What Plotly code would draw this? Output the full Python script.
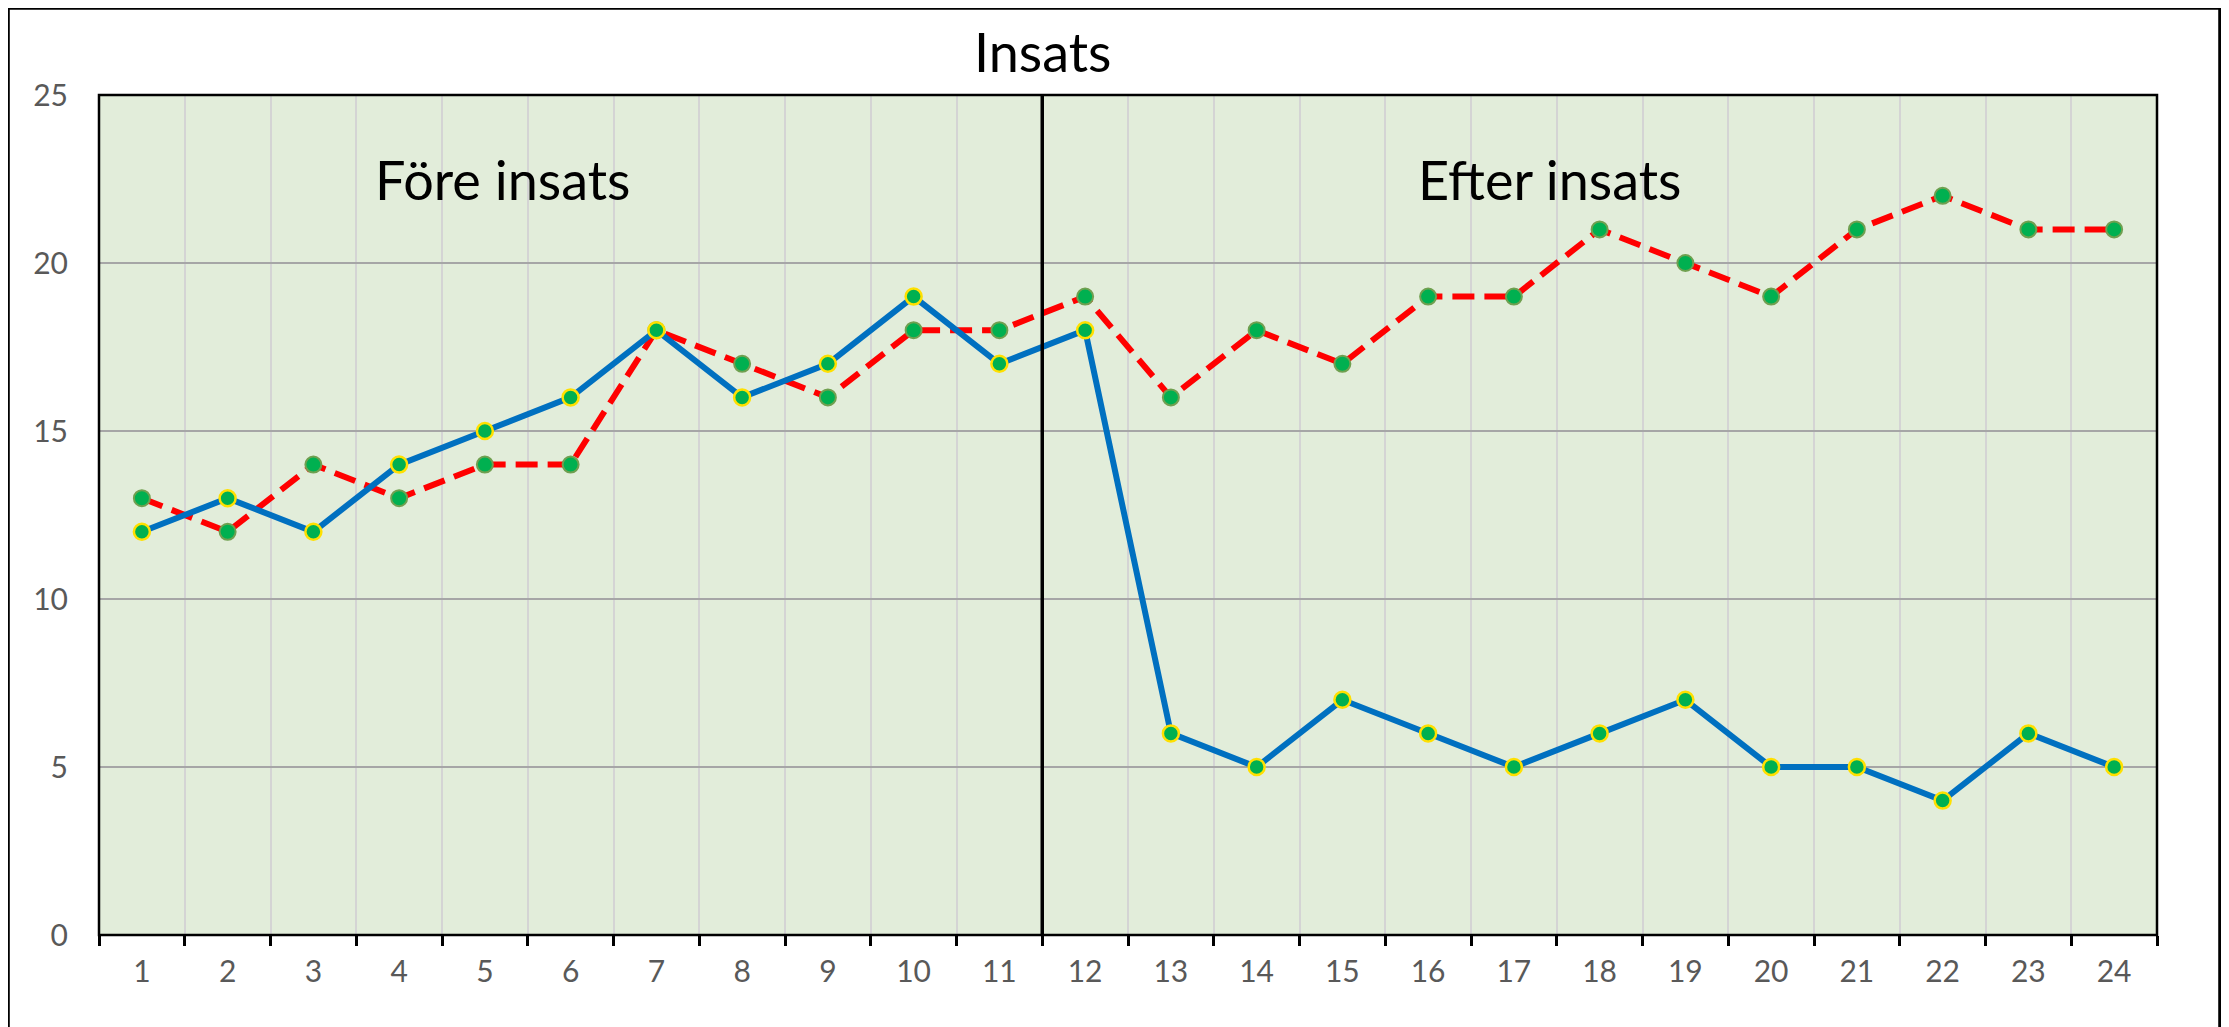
import plotly.graph_objects as go

x_vals = list(range(1, 25))
tick_labels = [str(i) for i in x_vals]
series_blue = [12, 13, 12, 14, 15, 16, 18, 16, 17, 19, 17, 18, 6, 5, 7, 6, 5, 6, 7, 5, 5, 4, 6, 5]
series_red = [13, 12, 14, 13, 14, 14, 18, 17, 16, 18, 18, 19, 16, 18, 17, 19, 19, 21, 20, 19, 21, 22, 21, 21]
intervention_x = 11.5
y_ticks = [0, 5, 10, 15, 20, 25]

FONT = "Lato"

fig = go.Figure()
fig.add_trace(go.Scatter(
    x=x_vals, y=series_red, mode="lines+markers",
    line=dict(color="#FF0000", width=6, dash="22px,10px"),
    marker=dict(size=16, color="#00B050", line=dict(color="#70A050", width=2)),
    showlegend=False))
fig.add_trace(go.Scatter(
    x=x_vals, y=series_blue, mode="lines+markers",
    line=dict(color="#0070C0", width=6),
    marker=dict(size=16, color="#00B050", line=dict(color="#FFE000", width=2.5)),
    showlegend=False))

# intervention line
fig.add_shape(type="line", xref="x", yref="paper", x0=intervention_x, x1=intervention_x,
              y0=0, y1=1, line=dict(color="black", width=3.5), layer="above")
# plot border
fig.add_shape(type="rect", xref="paper", yref="paper", x0=0, x1=1, y0=0, y1=1,
              line=dict(color="black", width=2.5), layer="above")
# outer chart border
fig.add_shape(type="rect", xref="paper", yref="paper", x0=-0.0442, x1=1.0306, y0=-0.2, y1=1.1036,
              line=dict(color="black", width=3.5))

fig.add_annotation(text="Insats", xref="x", yref="paper", x=intervention_x, y=1.0,
                   yanchor="middle", yshift=44, showarrow=False,
                   font=dict(family=FONT, size=54, color="black"))
fig.add_annotation(text="Före insats", xref="x", yref="y", x=5.2, y=22.5,
                   showarrow=False, font=dict(family=FONT, size=54, color="black"))
fig.add_annotation(text="Efter insats", xref="x", yref="y", x=17.42, y=22.5,
                   showarrow=False, font=dict(family=FONT, size=54, color="black"))

fig.update_layout(
    width=2229, height=1027,
    margin=dict(l=91, r=80, t=87, b=100),
    paper_bgcolor="white", plot_bgcolor="#E2EDDA",
    font=dict(family=FONT, size=30, color="#595959"),
    xaxis=dict(range=[0.5, 24.5], tickvals=x_vals, ticktext=tick_labels,
               showgrid=False, zeroline=False, ticks="", showline=False,
               ticklabelstandoff=16,
               minor=dict(tick0=0.5, dtick=1, showgrid=True, gridcolor="#D4D4D4", gridwidth=2,
                          ticks="outside", ticklen=10, tickcolor="black", tickwidth=2.5)),
    yaxis=dict(range=[0, 25], tickvals=y_ticks, showgrid=True, gridcolor="#A6A6A6", gridwidth=2,
               zeroline=False, ticks="", showline=False, ticklabelstandoff=30),
)

fig.write_html("out.html")
